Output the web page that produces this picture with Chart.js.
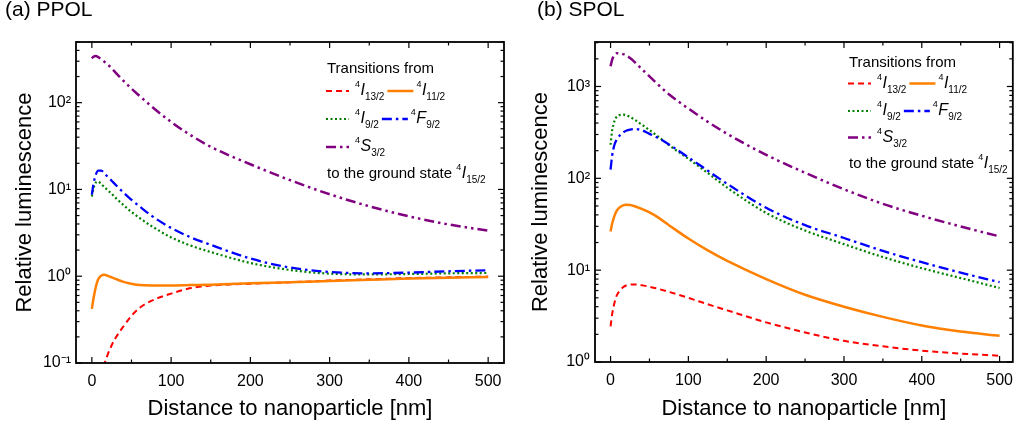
<!DOCTYPE html>
<html>
<head>
<meta charset="utf-8">
<script src="https://cdn.jsdelivr.net/npm/chart.js@4.4.1/dist/chart.umd.min.js"></script>
<style>
  html, body { margin: 0; padding: 0; background: #fff; }
  #wrap { position: relative; width: 1022px; height: 427px; overflow: hidden; }
  canvas { position: absolute; top: 0; }
</style>
</head>
<body>
<div id="wrap">
  <canvas id="ppol" width="520" height="427" style="left:0"></canvas>
  <canvas id="spol" width="502" height="427" style="left:520px"></canvas>
</div>
<script>
// distance to nanoparticle [nm], shared by every curve
const distance = [0, 2, 5, 8, 12, 16, 20, 25, 30, 40, 50, 60, 75, 100, 125, 150, 200, 250, 300, 350, 400, 450, 500]
const xTicks = [0, 100, 200, 300, 400, 500]
const xMinorTicks = [50, 150, 250, 350, 450]

// (a) PPOL
const ppolI13 = [null, null, null, null, 0.07, 0.098, 0.125, 0.16, 0.195, 0.265, 0.35, 0.43, 0.52, 0.63, 0.73, 0.78, 0.82, 0.85, 0.89, 0.92, 0.95, 0.97, 0.99]
const ppolI11 = [0.42, 0.55, 0.75, 0.92, 1.02, 1.04, 1.01, 0.97, 0.93, 0.86, 0.82, 0.79, 0.78, 0.78, 0.79, 0.80, 0.83, 0.85, 0.88, 0.91, 0.94, 0.96, 0.98]
const ppolI9 = [8.3, 10.2, 12.0, 12.3, 11.5, 10.6, 9.8, 8.9, 8.0, 6.6, 5.5, 4.7, 3.8, 2.8, 2.25, 1.9, 1.42, 1.18, 1.07, 1.05, 1.06, 1.08, 1.09]
const ppolF9 = [8.7, 11.5, 14.8, 16.5, 16.5, 15.2, 14.0, 12.6, 11.3, 9.2, 7.6, 6.4, 5.0, 3.6, 2.8, 2.3, 1.6, 1.26, 1.12, 1.08, 1.10, 1.14, 1.17]
const ppolS3 = [324, 338, 345, 335, 315, 295, 275, 248, 222, 178, 145, 120, 91, 60, 42, 31, 19.5, 12.8, 8.8, 6.4, 4.9, 3.95, 3.35]
const ppolYTicks = [0.1, 1, 10, 100]

// (b) SPOL
const spolI13 = [2.45, 3.3, 4.4, 5.3, 6.0, 6.5, 6.8, 6.95, 7.0, 6.85, 6.6, 6.3, 5.8, 5.0, 4.25, 3.65, 2.7, 2.1, 1.7, 1.48, 1.33, 1.235, 1.17]
const spolI11 = [26.4, 32, 39, 44.5, 48.5, 50.8, 51.5, 51.2, 50, 46.5, 42.5, 38, 30.9, 22.1, 16.4, 12.6, 8.0, 5.4, 4.0, 3.1, 2.5, 2.15, 1.93]
const spolI9 = [232, 330, 420, 470, 490, 494, 488, 465, 440, 385, 335, 290, 230, 163, 114, 79, 42, 27, 19.2, 13.9, 10.5, 8.2, 6.4]
const spolF9 = [124, 175, 232, 265, 295, 315, 330, 340, 344, 335, 305, 278, 234, 169, 121, 87, 47.8, 30.9, 22.4, 16.2, 12.2, 9.4, 7.4]
const spolS3 = [1660, 1950, 2200, 2300, 2290, 2250, 2180, 2040, 1880, 1550, 1290, 1070, 822, 575, 412, 305, 180, 115, 76, 52.7, 39.1, 29.9, 23.3]
const spolYTicks = [1, 10, 100, 1000]

// excited levels: superscript, term symbol, subscript
const levels = [
  { sup: '4', base: 'I', sub: '13/2' },
  { sup: '4', base: 'I', sub: '11/2' },
  { sup: '4', base: 'I', sub: '9/2' },
  { sup: '4', base: 'F', sub: '9/2' },
  { sup: '4', base: 'S', sub: '3/2' }
]
const groundState = { sup: '4', base: 'I', sub: '15/2' }

const styles = [
  { color: '#ff0000', dash: [6, 4], width: 2 },
  { color: '#ff8000', dash: [], width: 2.5 },
  { color: '#008000', dash: [2, 2.5], width: 2.2 },
  { color: '#0000ff', dash: [10, 4, 2.5, 4], width: 2.3 },
  { color: '#800080', dash: [10, 4, 2.5, 4, 2.5, 4], width: 2.5 }
]

const FONT = '"Liberation Sans", Arial, sans-serif'
Chart.defaults.font.family = FONT
Chart.defaults.color = '#000'

const SUP = { '-': '\u207B', '0': '\u2070', '1': '\u00B9', '2': '\u00B2', '3': '\u00B3' }
function powerLabel(value) {
  const e = Math.round(Math.log10(value))
  return '10' + String(e).split('').map(c => SUP[c]).join('')
}

function drawLevel(ctx, x, base, lv) {
  ctx.font = '9px ' + FONT
  ctx.fillText(lv.sup, x, base - 8)
  x += ctx.measureText(lv.sup).width + 0.5
  ctx.font = 'italic 16px ' + FONT
  ctx.fillText(lv.base, x, base)
  x += ctx.measureText(lv.base).width
  ctx.font = '10px ' + FONT
  ctx.fillText(lv.sub, x, base + 5)
  return x + ctx.measureText(lv.sub).width
}

function drawSample(ctx, x1, x2, y, st) {
  ctx.save()
  ctx.strokeStyle = st.color
  ctx.lineWidth = st.width
  ctx.setLineDash(st.dash)
  ctx.beginPath()
  ctx.moveTo(x1, y)
  ctx.lineTo(x2, y)
  ctx.stroke()
  ctx.restore()
}

const framePlugin = {
  id: 'frame',
  afterDraw(chart, args, opts) {
    const { ctx, chartArea: a, scales: { x, y } } = chart
    ctx.save()
    ctx.strokeStyle = '#000'
    ctx.lineWidth = 1.2
    const seg = (x1, y1, x2, y2) => { ctx.beginPath(); ctx.moveTo(x1, y1); ctx.lineTo(x2, y2); ctx.stroke() }

    // inward ticks on all four sides
    const xt = (v, len) => {
      const px = x.getPixelForValue(v)
      seg(px, a.bottom, px, a.bottom - len)
      seg(px, a.top, px, a.top + len)
    }
    xTicks.forEach(v => xt(v, 6))
    xMinorTicks.forEach(v => xt(v, 3.5))
    const e0 = Math.floor(Math.log10(y.min)), e1 = Math.ceil(Math.log10(y.max))
    for (let e = e0; e <= e1; e++) {
      for (let m = 1; m <= 9; m++) {
        const v = m * Math.pow(10, e)
        if (v < y.min * 0.999 || v > y.max) continue
        const py = y.getPixelForValue(v)
        const len = m === 1 ? 6 : 3.5
        seg(a.left, py, a.left + len, py)
        seg(a.right, py, a.right - len, py)
      }
    }
    ctx.lineWidth = 1.8
    ctx.strokeRect(a.left, a.top, a.right - a.left, a.bottom - a.top)

    // panel title
    ctx.fillStyle = '#000'
    ctx.textAlign = 'left'
    ctx.textBaseline = 'alphabetic'
    ctx.font = '21px ' + FONT
    ctx.fillText(opts.title, opts.titleX, 16)

    // legend
    const { x0, y0, rows } = opts.legend
    ctx.font = '15px ' + FONT
    ctx.fillText('Transitions from', x0, y0)
    const layout = [[0, 1], [2, 3], [4]]
    layout.forEach((items, r) => {
      const base = y0 + rows[r]
      let cx = x0 - 1
      items.forEach((idx, k) => {
        const len = k === 0 ? 23 : 26
        if (k > 0) cx += 3
        drawSample(ctx, cx, cx + len, base - 4, styles[idx])
        cx = drawLevel(ctx, cx + len + (k === 0 ? 6 : 3), base, levels[idx])
      })
    })
    const b4 = y0 + rows[3]
    ctx.font = '15px ' + FONT
    ctx.fillText('to the ground state ', x0, b4)
    drawLevel(ctx, x0 + ctx.measureText('to the ground state ').width, b4, groundState)
    ctx.restore()
  }
}

function makeChart(id, series, yMin, yMax, yTicks, xMax, frame) {
  const datasets = series.map((vals, i) => ({
    label: levels[i].sup + levels[i].base + levels[i].sub,
    data: distance.map((d, k) => ({ x: d, y: vals[k] })),
    borderColor: styles[i].color,
    borderWidth: styles[i].width,
    borderDash: styles[i].dash,
    pointRadius: 0,
    fill: false,
    cubicInterpolationMode: 'monotone',
    spanGaps: false
  }))
  // draw S3/2 first so lower curves sit on top like the original
  datasets.reverse()

  return new Chart(document.getElementById(id), {
    type: 'line',
    data: { datasets },
    plugins: [framePlugin],
    options: {
      responsive: false,
      animation: false,
      events: [],
      layout: { padding: frame.padding },
      plugins: {
        legend: { display: false },
        tooltip: { enabled: false },
        frame: frame
      },
      scales: {
        x: {
          type: 'linear',
          min: -20,
          max: xMax,
          grid: { display: false, drawTicks: false },
          border: { display: false },
          afterBuildTicks: s => { s.ticks = xTicks.map(v => ({ value: v })) },
          afterFit: s => { s.height = frame.xHeight },
          ticks: { font: { size: 16 }, padding: 9, maxRotation: 0, autoSkip: false },
          title: {
            display: true,
            text: 'Distance to nanoparticle [nm]',
            font: { size: 22 },
            padding: { top: 0, bottom: 5 }
          }
        },
        y: {
          type: 'logarithmic',
          min: yMin,
          max: yMax,
          grid: { display: false, drawTicks: false },
          border: { display: false },
          afterBuildTicks: s => { s.ticks = yTicks.map(v => ({ value: v })) },
          afterFit: s => { s.width = frame.yWidth },
          ticks: { font: { size: 16 }, padding: 5, autoSkip: false, callback: v => powerLabel(v) },
          title: {
            display: true,
            text: 'Relative luminescence',
            font: { size: 22 },
            padding: { top: frame.yTitlePad, bottom: 0 }
          }
        }
      }
    }
  })
}

makeChart('ppol', [ppolI13, ppolI11, ppolI9, ppolF9, ppolS3], 0.1, 500, ppolYTicks, 520, {
  title: '(a) PPOL', titleX: 5,
  padding: { left: 0, right: 16, top: 42, bottom: 0 },
  yWidth: 76, xHeight: 64, yTitlePad: 12,
  legend: { x0: 327, y0: 73, rows: [22, 50, 78, 105] }
})

makeChart('spol', [spolI13, spolI11, spolI9, spolF9, spolS3], 1, 3050, spolYTicks, 517, {
  title: '(b) SPOL', titleX: 17,
  padding: { left: 0, right: 2, top: 42, bottom: 0 },
  yWidth: 75, xHeight: 65, yTitlePad: 8,
  legend: { x0: 329, y0: 67, rows: [20.5, 48, 74.5, 101] }
})
</script>
</body>
</html>
